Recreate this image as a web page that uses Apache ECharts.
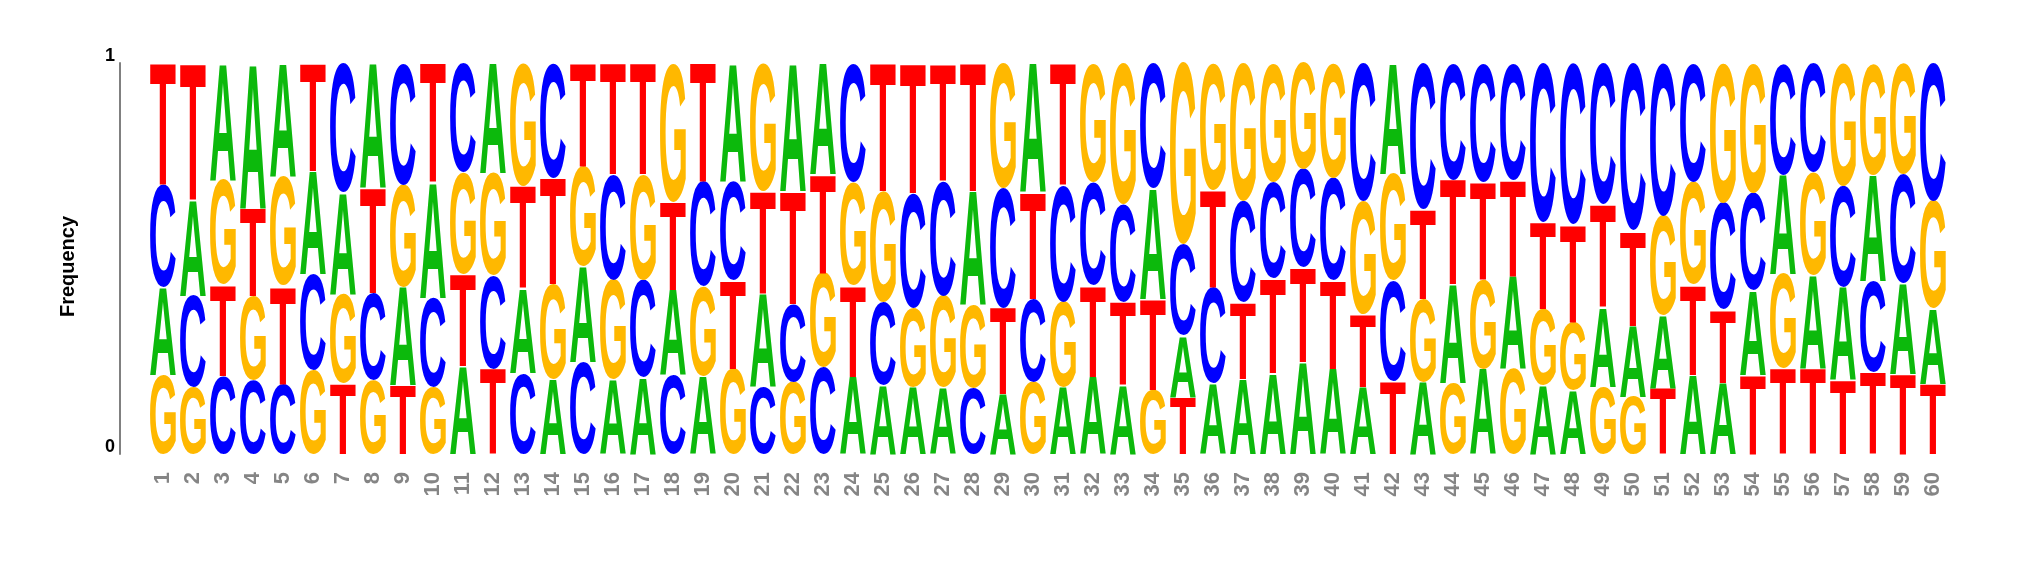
<!DOCTYPE html>
<html>
<head>
<meta charset="utf-8">
<script src="https://cdn.jsdelivr.net/npm/echarts@6/dist/echarts.min.js"></script>
<style>
  html, body { margin: 0; padding: 0; background: #fff; }
  #logo { width: 2025px; height: 574px; }
</style>
</head>
<body>
<div id="logo"></div>
<script>
//  位置 1..60
const positions = Array.from({length: 60}, (_, i) => String(i + 1));
//  各碱基频率
const freqA = [0.225, 0.245, 0.30, 0.37, 0.29, 0.265, 0.26, 0.32, 0.25, 0.295,
               0.225, 0.28, 0.215, 0.19, 0.245, 0.19, 0.195, 0.215, 0.195, 0.30,
               0.236, 0.324, 0.282, 0.195, 0.174, 0.17, 0.17, 0.29, 0.153, 0.328,
               0.17, 0.195, 0.174, 0.28, 0.156, 0.178, 0.19, 0.204, 0.235, 0.216,
               0.17, 0.28, 0.183, 0.25, 0.216, 0.236, 0.174, 0.162, 0.202, 0.18,
               0.185, 0.20, 0.18, 0.215, 0.253, 0.236, 0.236, 0.27, 0.23, 0.19];
const freqC = [0.26, 0.235, 0.20, 0.19, 0.18, 0.245, 0.33, 0.225, 0.31, 0.23,
               0.28, 0.236, 0.204, 0.29, 0.235, 0.27, 0.25, 0.20, 0.265, 0.25,
               0.17, 0.198, 0.22, 0.30, 0.21, 0.29, 0.295, 0.166, 0.303, 0.21,
               0.295, 0.26, 0.248, 0.316, 0.23, 0.244, 0.257, 0.244, 0.25, 0.26,
               0.35, 0.255, 0.37, 0.295, 0.30, 0.295, 0.404, 0.408, 0.358, 0.425,
               0.387, 0.30, 0.27, 0.248, 0.282, 0.278, 0.257, 0.231, 0.278, 0.35];
const freqG = [0.20, 0.17, 0.27, 0.215, 0.28, 0.215, 0.23, 0.19, 0.26, 0.17,
               0.26, 0.26, 0.31, 0.24, 0.255, 0.255, 0.27, 0.35, 0.227, 0.216,
               0.324, 0.183, 0.24, 0.26, 0.28, 0.20, 0.236, 0.21, 0.316, 0.183,
               0.215, 0.30, 0.358, 0.162, 0.46, 0.32, 0.35, 0.30, 0.27, 0.29,
               0.286, 0.27, 0.21, 0.18, 0.227, 0.216, 0.194, 0.173, 0.17, 0.145,
               0.252, 0.26, 0.354, 0.328, 0.24, 0.26, 0.31, 0.282, 0.282, 0.274];
const freqT = [0.31, 0.35, 0.235, 0.225, 0.25, 0.275, 0.18, 0.27, 0.175, 0.305,
               0.235, 0.216, 0.26, 0.27, 0.265, 0.285, 0.285, 0.223, 0.30, 0.223,
               0.26, 0.286, 0.25, 0.23, 0.324, 0.33, 0.30, 0.324, 0.219, 0.27,
               0.31, 0.23, 0.21, 0.23, 0.145, 0.248, 0.194, 0.24, 0.24, 0.223,
               0.185, 0.185, 0.227, 0.265, 0.248, 0.244, 0.219, 0.248, 0.26, 0.24,
               0.166, 0.227, 0.185, 0.20, 0.216, 0.216, 0.187, 0.208, 0.204, 0.178];
const yTicks = [0, 1];

const letters = ['A', 'C', 'G', 'T'];
const letterColor = {A: '#0cb90c', C: '#0000ff', G: '#ffb800', T: '#ff0000'};
const glyphFont = 'bold 100px "Liberation Sans"';

//  字形包围盒 (relative to center / middle anchor)
const glyphBox = (function () {
    const ctx = document.createElement('canvas').getContext('2d');
    ctx.font = glyphFont;
    ctx.textAlign = 'center';
    ctx.textBaseline = 'middle';
    const box = {};
    letters.forEach(function (L) {
        const m = ctx.measureText(L);
        box[L] = {
            l: m.actualBoundingBoxLeft,
            r: m.actualBoundingBoxRight,
            a: m.actualBoundingBoxAscent,
            d: m.actualBoundingBoxDescent
        };
    });
    return box;
})();

//  把字母拉伸到矩形里
function glyph(L, x0, y0, w, h) {
    const b = glyphBox[L];
    const sx = w / (b.l + b.r);
    const sy = h / (b.a + b.d);
    return {
        type: 'text',
        x: x0 + sx * b.l,
        y: y0 + sy * b.a,
        scaleX: sx,
        scaleY: sy,
        silent: true,
        style: {
            text: L,
            font: glyphFont,
            fill: letterColor[L],
            align: 'center',
            verticalAlign: 'middle'
        }
    };
}

const logoData = positions.map(function (p, i) {
    return [i, freqA[i], freqC[i], freqG[i], freqT[i]];
});

function renderColumn(params, api) {
    const i = api.value(0);
    const items = letters.map(function (L, k) {
        return {L: L, v: api.value(k + 1)};
    });
    //  小的在下面
    items.sort(function (a, b) { return a.v - b.v; });
    const total = items.reduce(function (s, it) { return s + it.v; }, 0);
    const w = api.size([1, 0])[0] * 0.86;
    const children = [];
    let acc = 0;
    items.forEach(function (it) {
        const p0 = api.coord([i, acc / total]);
        acc += it.v;
        const p1 = api.coord([i, acc / total]);
        children.push(glyph(it.L, p0[0] - w / 2, p1[1], w, p0[1] - p1[1]));
    });
    return {type: 'group', children: children};
}

const myChart = echarts.init(document.getElementById('logo'), null, {renderer: 'canvas'});
myChart.setOption({
    animation: false,
    backgroundColor: '#ffffff',
    grid: {
        left: 148,
        right: 77,
        top: 63,
        bottom: 120,
    },
    xAxis: {
        type: 'category',
        data: positions,
        axisLine: {show: false},
        axisTick: {show: false},
        axisLabel: {
            rotate: 90,
            margin: 18,
            color: '#858585',
            fontWeight: 'bold',
            fontSize: 22,
            fontFamily: 'Liberation Sans',
            interval: 0
        }
    },
    yAxis: {
        type: 'value',
        min: yTicks[0],
        max: yTicks[yTicks.length - 1],
        interval: 1,
        offset: 28,
        name: 'Frequency',
        nameLocation: 'middle',
        nameGap: 42,
        nameTextStyle: {
            color: '#000000',
            fontWeight: 'bold',
            fontSize: 20,
            fontFamily: 'Liberation Sans',
            padding: [0, 16, 0, 0]
        },
        axisLine: {
            show: true,
            lineStyle: {color: '#808080', width: 2}
        },
        axisTick: {show: false},
        splitLine: {show: false},
        axisLabel: {
            color: '#000000',
            fontWeight: 'bold',
            fontSize: 18,
            lineHeight: 14,
            fontFamily: 'Liberation Sans',
            margin: 5,
            verticalAlign: 'bottom'
        }
    },
    series: [{
        type: 'custom',
        data: logoData,
        encode: {x: 0, y: [1, 2, 3, 4]},
        renderItem: renderColumn,
        clip: false
    }]
});
</script>
</body>
</html>
